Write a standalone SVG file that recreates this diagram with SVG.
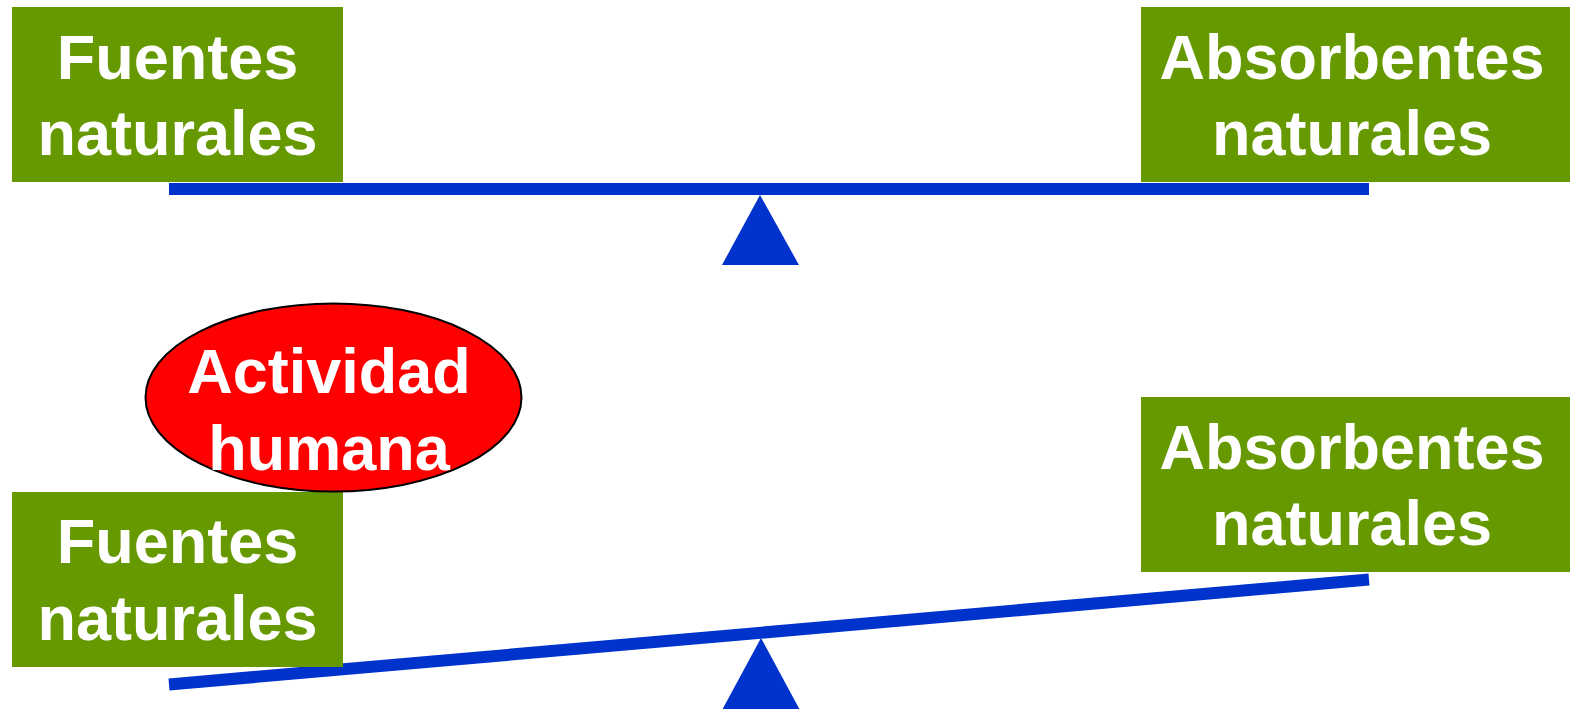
<svg xmlns="http://www.w3.org/2000/svg" width="1570" height="709" viewBox="0 0 1570 709">
<style>
.box{fill:#669900}
.t{font-family:"Liberation Sans",Arial,sans-serif;font-weight:bold;font-size:63px;fill:#ffffff;text-anchor:middle}
.beam{stroke:#0033cc;stroke-width:12;fill:none}
.pivot{fill:#0033cc}
</style>
<rect width="1570" height="709" fill="#ffffff"/>
<g id="top-fuentes"><rect class="box" x="12" y="7" width="331" height="175"/><text class="t" x="177.5" y="79">Fuentes</text><text class="t" x="177.5" y="155">naturales</text></g>
<g id="top-absorbentes"><rect class="box" x="1141" y="7" width="429" height="175"/><text class="t" x="1352" y="79">Absorbentes</text><text class="t" x="1352" y="155">naturales</text></g>
<g id="connectors">
<line class="beam" x1="169" y1="189" x2="1369" y2="189"/>
<polygon class="pivot" points="760,195 799,265 722,265"/>
<line class="beam" x1="169" y1="684.5" x2="1369" y2="579.5"/>
<polygon class="pivot" points="761,638 801,712 721,712"/>
</g>
<g id="bottom-absorbentes"><rect class="box" x="1141" y="397" width="429" height="175"/><text class="t" x="1352" y="469">Absorbentes</text><text class="t" x="1352" y="545">naturales</text></g>
<g id="bottom-fuentes"><rect class="box" x="12" y="492" width="331" height="175"/><text class="t" x="177.5" y="563">Fuentes</text><text class="t" x="177.5" y="640">naturales</text></g>
<g id="actividad"><ellipse cx="333.5" cy="397.5" rx="188" ry="94" fill="#ff0000" stroke="#000000" stroke-width="2"/><text class="t" x="329" y="393">Actividad</text><text class="t" x="329" y="470">humana</text></g>
</svg>
